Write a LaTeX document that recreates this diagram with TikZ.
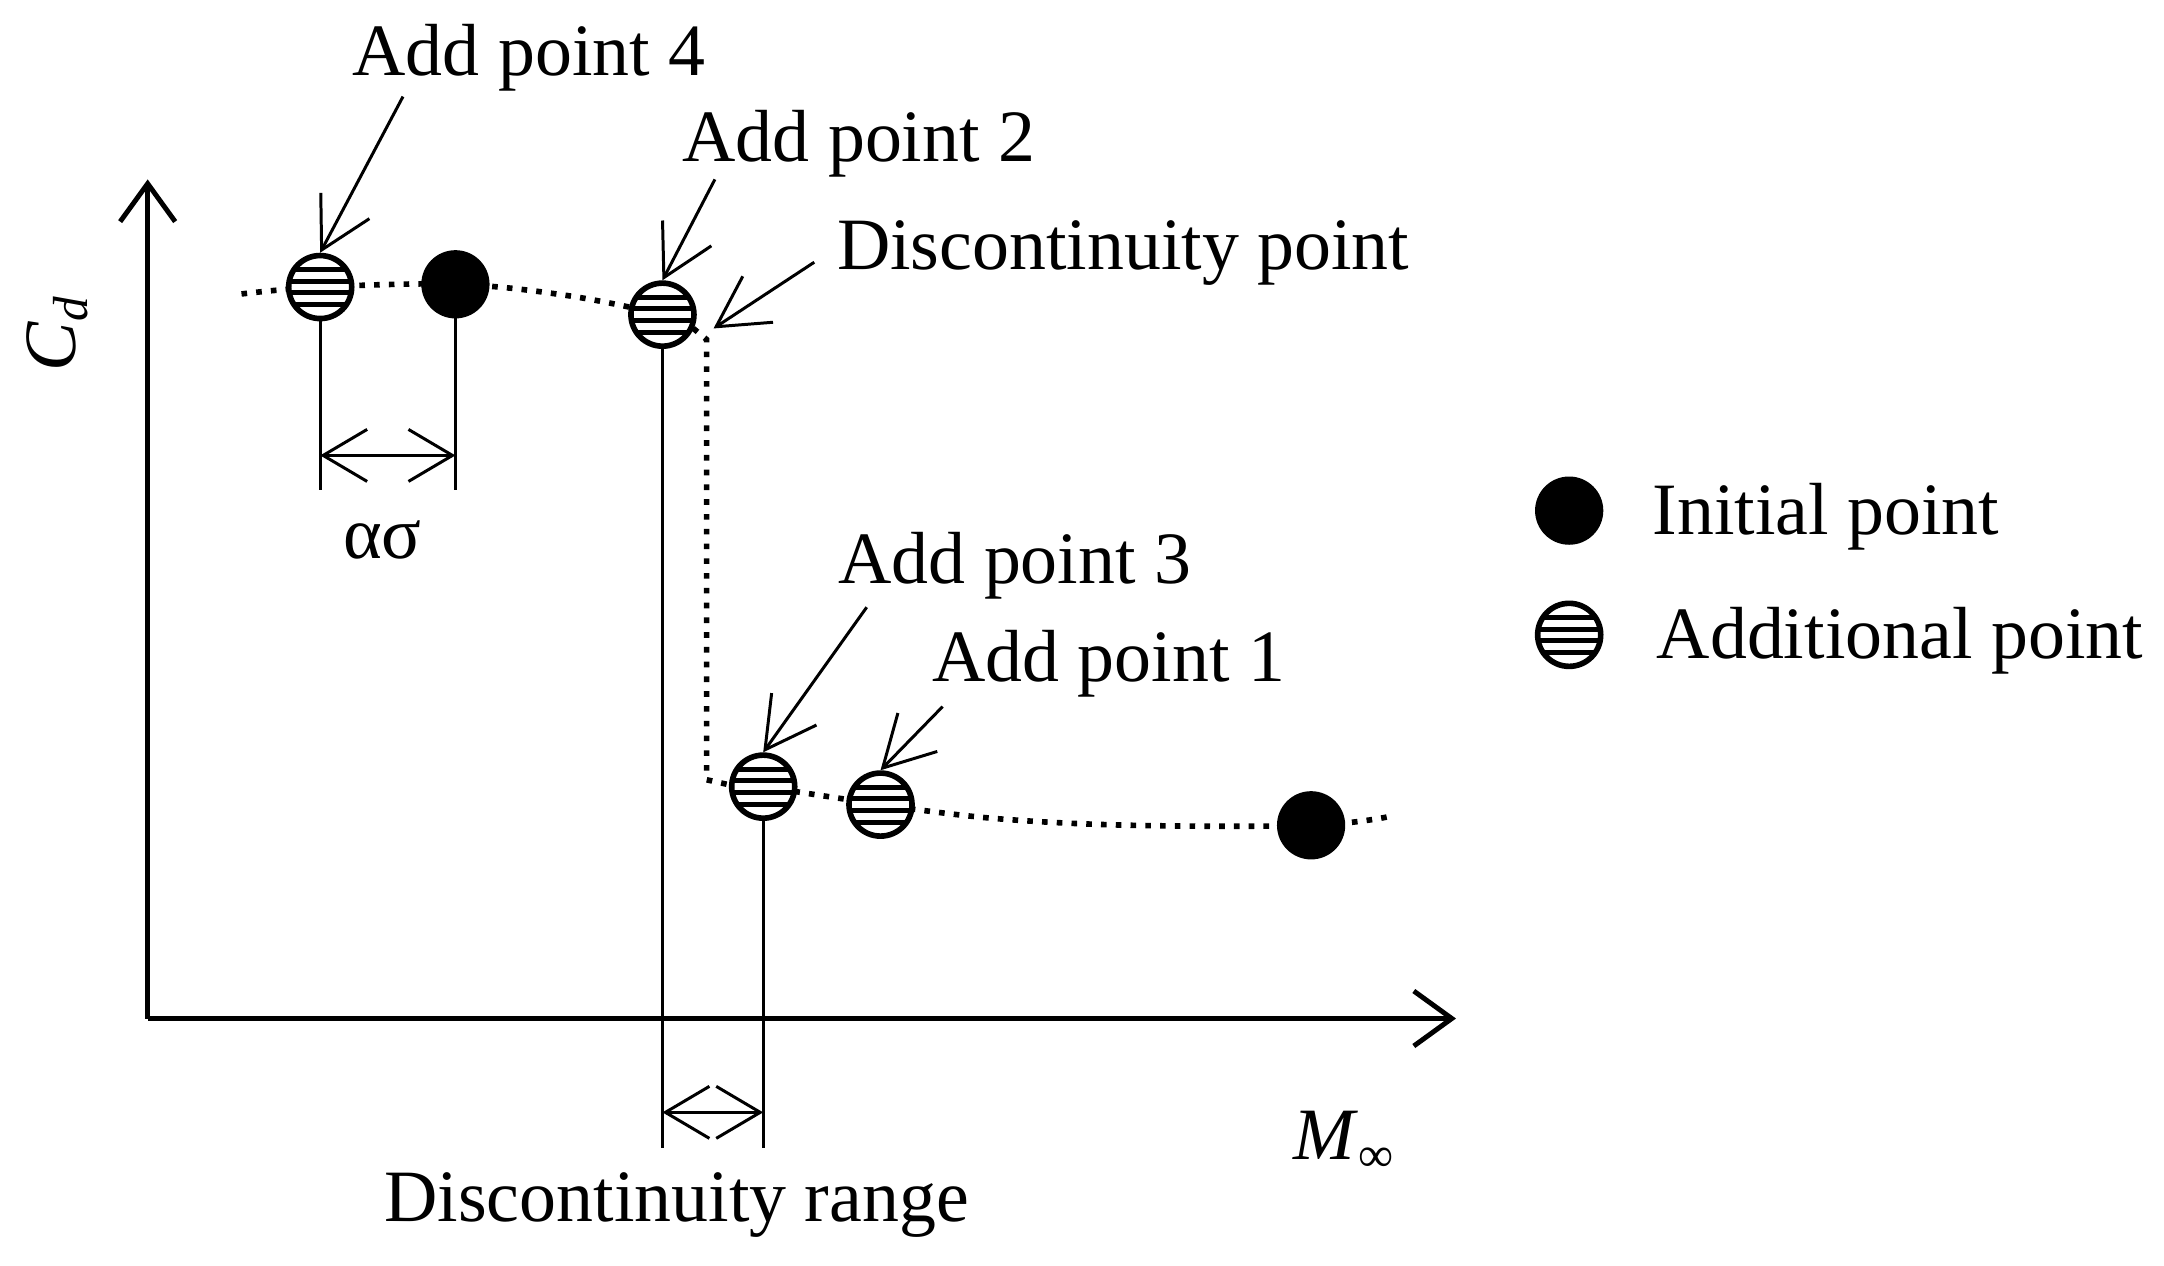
\documentclass[tikz,border=0pt]{standalone}
\usepackage{fontspec}
\setmainfont{Liberation Serif}
\usetikzlibrary{arrows.meta,shapes.geometric,calc}
\begin{document}
\begin{tikzpicture}[x=0.0138cm,y=-0.0138cm,
  lbl/.style={font=\fontsize{21}{25}\selectfont, inner sep=0pt, anchor=base west},
  initpt/.style={circle, fill=black, draw=black, line width=1.2pt, minimum size=0.64cm, inner sep=0pt},
  addpt/.style={circle, fill=white, draw=black, line width=1.6pt, minimum size=0.63cm, inner sep=0pt,
     path picture={\foreach \k in {-3,-1,1,3}{\draw[line width=0.05cm] ([xshift=-1cm,yshift=\k*0.058cm]path picture bounding box.center) -- ++(2cm,0);}}},
  dotline/.style={line width=1.6pt, dash pattern=on 1.6pt off 2.6pt},
  axisline/.style={line width=1.4pt, -{Straight Barb[length=0.38cm,width=0.55cm,line width=1.4pt]}},
  thin/.style={line width=0.85pt},
  dimarrow/.style={line width=0.85pt, {Straight Barb[length=0.44cm,width=0.52cm]}-{Straight Barb[length=0.44cm,width=0.52cm]}},
  annot/.style={line width=0.85pt, -{Straight Barb[length=0.5cm,width=0.55cm]}}
]
\useasboundingbox (0,0) rectangle (1568,917);

% axes
\coordinate (origin) at (107,738);
\coordinate (ytop) at (107,130);
\coordinate (xend) at (1055,738);
\draw[axisline] (origin) -- (ytop);
\draw[axisline] (origin) -- (xend);
\node[lbl, rotate=90, anchor=base] (cd) at (55,242) {\textit{C}\raisebox{-0.35ex}{\fontsize{14}{14}\selectfont\textit{d}}};
\node[lbl] (minf) at (937,840) {\textit{M}\raisebox{-0.35ex}{\fontsize{14}{14}\selectfont ∞}};

% dotted curve
\coordinate (dtop) at (512,246);
\coordinate (dbot) at (512,565);
\draw[dotline] plot[smooth, tension=0.6] coordinates {(175,213) (232,208) (330,206) (410,214) (480,228) (500,236)} -- (dtop) -- (dbot) -- (530,569)
  -- (553,570) -- (638,583);
\draw[dotline] plot[smooth, tension=0.6] coordinates {(638,583) (720,593) (820,598) (950,598) (1005,592)};

% points
\node[addpt] (a4) at (232,208) {};
\node[initpt] (i1) at (330,206) {};
\node[addpt] (a2) at (480,228) {};
\node[addpt] (a3) at (553,570) {};
\node[addpt] (a1) at (638,583) {};
\node[initpt] (i2) at (950,598) {};

% dimension lines
\coordinate (a4b) at (232,355);
\coordinate (i1b) at (330,355);
\coordinate (a2b) at (480,832);
\coordinate (a3b) at (553,832);
\draw[thin] (a4.south) -- (a4b);
\draw[thin] (i1.south) -- (i1b);
\draw[thin] (a2.south) -- (a2b);
\draw[thin] (a3.south) -- (a3b);
\coordinate (as1) at (232,330);
\coordinate (as2) at (330,330);
\draw[dimarrow] (as1) -- (as2);
\coordinate (dr1) at (480,806);
\coordinate (dr2) at (553,806);
\draw[dimarrow] (dr1) -- (dr2);
\node[lbl, anchor=base] (aslab) at (277,405) {ασ};
\node[lbl] (drlab) at (278,885) {Discontinuity range};

% annotations
\node[lbl] (t4) at (255,55) {Add point 4};
\node[lbl] (t2) at (494,117) {Add point 2};
\node[lbl] (tdp) at (606,195) {Discontinuity point};
\node[lbl] (t3) at (607,423) {Add point 3};
\node[lbl] (t1) at (675,494) {Add point 1};
\coordinate (s4) at (292,70);
\coordinate (s2) at (518,130);
\coordinate (sdp) at (590,190);
\coordinate (edp) at (517,238);
\coordinate (s3) at (628,440);
\coordinate (s1) at (683,512);
\draw[annot] (s4) -- (a4.north);
\draw[annot] (s2) -- (a2.north);
\draw[annot] (sdp) -- (edp);
\draw[annot] (s3) -- (a3.north);
\draw[annot] (s1) -- (a1.north);

% legend
\node[initpt] (li) at (1137,370) {};
\node[addpt] (la) at (1137,460) {};
\node[lbl] (til) at (1197,387) {Initial point};
\node[lbl] (tal) at (1200,477) {Additional point};
\end{tikzpicture}
\end{document}
